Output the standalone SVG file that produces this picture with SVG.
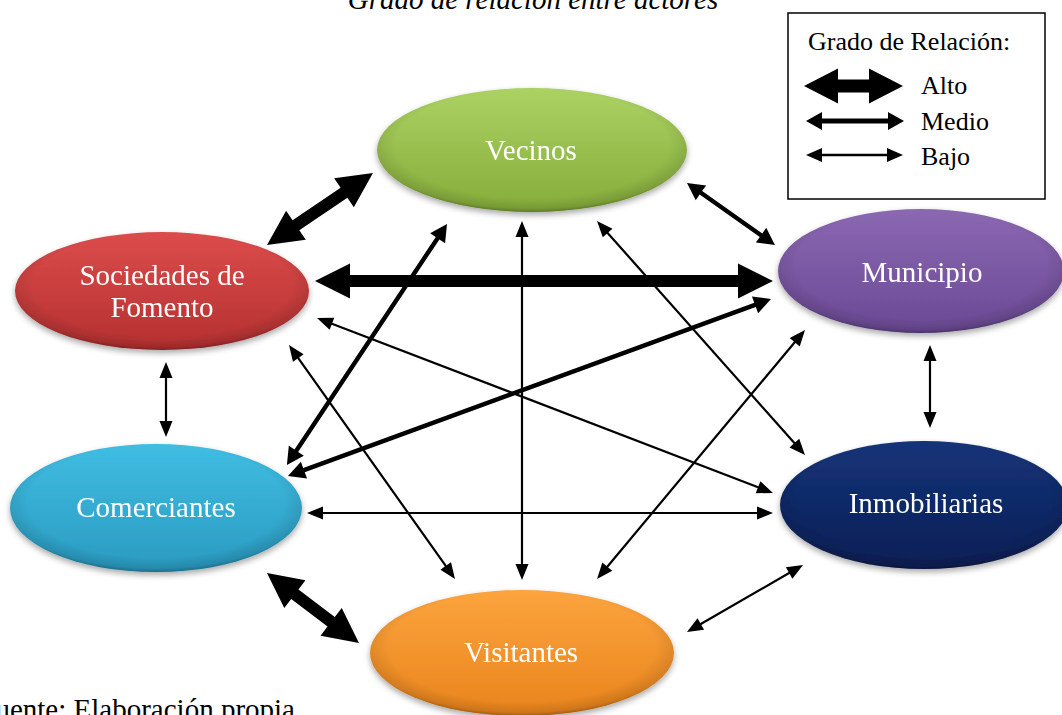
<svg xmlns="http://www.w3.org/2000/svg" width="1062" height="715" viewBox="0 0 1062 715">
<style>
.lbl{font-family:"Liberation Serif","Times New Roman",serif;font-size:29px;fill:#ffffff;text-anchor:middle}
.txt{font-family:"Liberation Serif","Times New Roman",serif;fill:#000000}
.arr{fill:#000000;stroke:none}
</style>
<defs>
<filter id="sh" x="-10%" y="-15%" width="120%" height="140%">
<feGaussianBlur in="SourceAlpha" stdDeviation="3"/>
<feOffset dx="0" dy="3" result="b"/>
<feComponentTransfer><feFuncA type="linear" slope="0.35"/></feComponentTransfer>
<feMerge><feMergeNode/><feMergeNode in="SourceGraphic"/></feMerge>
</filter>
<radialGradient id="rim" cx="0.5" cy="0.45" r="0.55">
<stop offset="0.8" stop-color="#000" stop-opacity="0"/>
<stop offset="0.95" stop-color="#000" stop-opacity="0.12"/>
<stop offset="1" stop-color="#000" stop-opacity="0.3"/>
</radialGradient>
<linearGradient id="gV" x1="0" y1="0" x2="0" y2="1"><stop offset="0" stop-color="#abd263"/><stop offset="1" stop-color="#86ad3a"/></linearGradient>
<linearGradient id="gS" x1="0" y1="0" x2="0" y2="1"><stop offset="0" stop-color="#dc4c4c"/><stop offset="1" stop-color="#b53030"/></linearGradient>
<linearGradient id="gM" x1="0" y1="0" x2="0" y2="1"><stop offset="0" stop-color="#8b68b2"/><stop offset="1" stop-color="#6b4994"/></linearGradient>
<linearGradient id="gC" x1="0" y1="0" x2="0" y2="1"><stop offset="0" stop-color="#40bde2"/><stop offset="1" stop-color="#2a9ac0"/></linearGradient>
<linearGradient id="gI" x1="0" y1="0" x2="0" y2="1"><stop offset="0" stop-color="#153478"/><stop offset="1" stop-color="#0a1f56"/></linearGradient>
<linearGradient id="gW" x1="0" y1="0" x2="0" y2="1"><stop offset="0" stop-color="#fca43e"/><stop offset="1" stop-color="#e9841c"/></linearGradient>
</defs>
<rect x="0" y="0" width="1062" height="715" fill="#ffffff"/>
<text class="txt" x="533" y="9" font-size="29" font-style="italic" text-anchor="middle">Grado de relación entre actores</text>
<text class="txt" x="295" y="719" font-size="29" text-anchor="end">Fuente: Elaboración propia</text>

<g id="legend">
<rect x="788" y="13" width="257" height="186" fill="#ffffff" stroke="#000000" stroke-width="1.5"/>
<text class="txt" x="808" y="50" font-size="26">Grado de Relación:</text>
<polygon class="arr" transform="translate(804,86)" points="0,0 34,-17.5 34,-6.5 65,-6.5 65,-17.5 99,0 65,17.5 65,6.5 34,6.5 34,17.5"/>
<text class="txt" x="921" y="94" font-size="26">Alto</text>
<polygon class="arr" transform="translate(806,121)" points="0,0 16,-9 16,-2.5 82,-2.5 82,-9 98,0 82,9 82,2.5 16,2.5 16,9"/>
<text class="txt" x="921" y="130" font-size="26">Medio</text>
<polygon class="arr" transform="translate(806,155)" points="0,0 16,-7 16,-1.3 81,-1.3 81,-7 97,0 81,7 81,1.3 16,1.3 16,7"/>
<text class="txt" x="921" y="165" font-size="26">Bajo</text>
</g>

<g id="vecinos" filter="url(#sh)">
<ellipse cx="532" cy="150" rx="155" ry="62" fill="url(#gV)"/>
<ellipse cx="532" cy="150" rx="155" ry="62" fill="url(#rim)"/>
<text class="lbl" x="531" y="160">Vecinos</text>
</g>
<g id="sociedades" filter="url(#sh)">
<ellipse cx="162" cy="291" rx="147" ry="59" fill="url(#gS)"/>
<ellipse cx="162" cy="291" rx="147" ry="59" fill="url(#rim)"/>
<text class="lbl" x="162" y="285">Sociedades de</text>
<text class="lbl" x="162" y="317">Fomento</text>
</g>
<g id="municipio" filter="url(#sh)">
<ellipse cx="921" cy="271" rx="143" ry="62" fill="url(#gM)"/>
<ellipse cx="921" cy="271" rx="143" ry="62" fill="url(#rim)"/>
<text class="lbl" x="922" y="282">Municipio</text>
</g>
<g id="comerciantes" filter="url(#sh)">
<ellipse cx="156" cy="508" rx="146" ry="64" fill="url(#gC)"/>
<ellipse cx="156" cy="508" rx="146" ry="64" fill="url(#rim)"/>
<text class="lbl" x="156" y="517">Comerciantes</text>
</g>
<g id="inmobiliarias" filter="url(#sh)">
<ellipse cx="924" cy="505" rx="144" ry="64" fill="url(#gI)"/>
<ellipse cx="924" cy="505" rx="144" ry="64" fill="url(#rim)"/>
<text class="lbl" x="926" y="513">Inmobiliarias</text>
</g>
<g id="visitantes" filter="url(#sh)">
<ellipse cx="522" cy="653" rx="152" ry="63" fill="url(#gW)"/>
<ellipse cx="522" cy="653" rx="152" ry="63" fill="url(#rim)"/>
<text class="lbl" x="521" y="662">Visitantes</text>
</g>

<g id="connectors">
<polygon class="arr" transform="translate(267,245) rotate(-34.2)" points="0,0 35,-17.5 35,-6 93.1,-6 93.1,-17.5 128.1,0 93.1,17.5 93.1,6 35,6 35,17.5"/>
<polygon class="arr" transform="translate(315,281)" points="0,0 35,-17.5 35,-6 423,-6 423,-17.5 458,0 423,17.5 423,6 35,6 35,17.5"/>
<polygon class="arr" transform="translate(267,573) rotate(37.27)" points="0,0 35,-17.5 35,-6 80.6,-6 80.6,-17.5 115.6,0 80.6,17.5 80.6,6 35,6 35,17.5"/>
<polygon class="arr" transform="translate(687,183) rotate(35.17)" points="0,0 17,-9 17,-2.2 90.6,-2.2 90.6,-9 107.6,0 90.6,9 90.6,2.2 17,2.2 17,9"/>
<polygon class="arr" transform="translate(447,224) rotate(123.6)" points="0,0 17,-9 17,-2.2 272.3,-2.2 272.3,-9 289.3,0 272.3,9 272.3,2.2 17,2.2 17,9"/>
<polygon class="arr" transform="translate(771,299) rotate(159.88)" points="0,0 17,-9 17,-2.2 497.4,-2.2 497.4,-9 514.4,0 497.4,9 497.4,2.2 17,2.2 17,9"/>
<polygon class="arr" transform="translate(166,362) rotate(90)" points="0,0 16,-6.5 16,-1.1 59,-1.1 59,-6.5 75,0 59,6.5 59,1.1 16,1.1 16,6.5"/>
<polygon class="arr" transform="translate(930,345) rotate(90)" points="0,0 16,-6.5 16,-1.1 67,-1.1 67,-6.5 83,0 67,6.5 67,1.1 16,1.1 16,6.5"/>
<polygon class="arr" transform="translate(522,221) rotate(90)" points="0,0 16,-6.5 16,-1.1 343,-1.1 343,-6.5 359,0 343,6.5 343,1.1 16,1.1 16,6.5"/>
<polygon class="arr" transform="translate(317,318) rotate(20.99)" points="0,0 16,-6.5 16,-1.1 472.4,-1.1 472.4,-6.5 488.4,0 472.4,6.5 472.4,1.1 16,1.1 16,6.5"/>
<polygon class="arr" transform="translate(597,221) rotate(48.37)" points="0,0 16,-6.5 16,-1.1 297.1,-1.1 297.1,-6.5 313.1,0 297.1,6.5 297.1,1.1 16,1.1 16,6.5"/>
<polygon class="arr" transform="translate(289,345) rotate(54.65)" points="0,0 16,-6.5 16,-1.1 270.9,-1.1 270.9,-6.5 286.9,0 270.9,6.5 270.9,1.1 16,1.1 16,6.5"/>
<polygon class="arr" transform="translate(307,513)" points="0,0 16,-6.5 16,-1.1 450,-1.1 450,-6.5 466,0 450,6.5 450,1.1 16,1.1 16,6.5"/>
<polygon class="arr" transform="translate(805,330) rotate(129.87)" points="0,0 16,-6.5 16,-1.1 308.4,-1.1 308.4,-6.5 324.4,0 308.4,6.5 308.4,1.1 16,1.1 16,6.5"/>
<polygon class="arr" transform="translate(803,565) rotate(150)" points="0,0 16,-6.5 16,-1.1 118,-1.1 118,-6.5 134,0 118,6.5 118,1.1 16,1.1 16,6.5"/>
</g>
</svg>
